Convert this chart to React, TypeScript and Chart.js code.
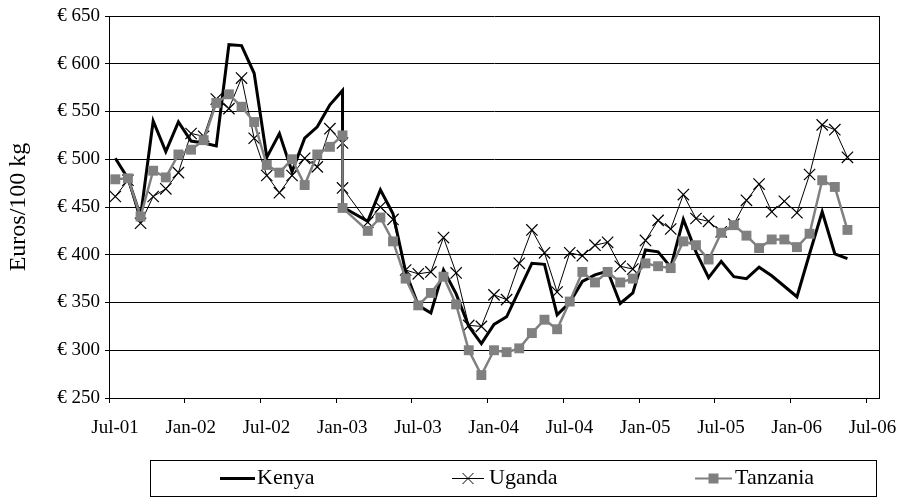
import React, { useEffect, useRef } from "react";
import { Chart, registerables } from "chart.js";

Chart.register(...registerables);

// Observation months (Jan-03 appears twice, Feb-03 has no observation)
const months = [
  "Jul-01", "Aug-01", "Sep-01", "Oct-01", "Nov-01", "Dec-01",
  "Jan-02", "Feb-02", "Mar-02", "Apr-02", "May-02", "Jun-02",
  "Jul-02", "Aug-02", "Sep-02", "Oct-02", "Nov-02", "Dec-02",
  "Jan-03", "Jan-03", "Mar-03", "Apr-03", "May-03", "Jun-03",
  "Jul-03", "Aug-03", "Sep-03", "Oct-03", "Nov-03", "Dec-03",
  "Jan-04", "Feb-04", "Mar-04", "Apr-04", "May-04", "Jun-04",
  "Jul-04", "Aug-04", "Sep-04", "Oct-04", "Nov-04", "Dec-04",
  "Jan-05", "Feb-05", "Mar-05", "Apr-05", "May-05", "Jun-05",
  "Jul-05", "Aug-05", "Sep-05", "Oct-05", "Nov-05", "Dec-05",
  "Jan-06", "Feb-06", "Mar-06", "Apr-06", "May-06",
];

const kenya = [
  501, 480, 440, 540, 508, 539,
  519, 517, 514, 620, 619, 590,
  502, 527, 487, 522, 534, 557,
  572, 450, 435, 468, 443, 382,
  347, 339, 384, 359, 325, 307,
  327, 335, 363, 391, 390, 337,
  350, 372, 379, 383, 349, 360,
  405, 403, 387, 437, 403, 376,
  393, 377, 375, 387, 378, 367,
  356, 401, 445, 401, 396,
];

const uganda = [
  461, 478, 433, 461, 469, 486,
  527, 524, 563, 553, 585, 522,
  483, 465, 483, 501, 492, 532,
  517, 470, 434, 450, 437, 384,
  380, 382, 418, 381, 326, 325,
  358, 353, 391, 426, 402, 361,
  402, 399, 410, 413, 388, 385,
  415, 436, 427, 463, 438, 435,
  424, 432, 457, 474, 445, 456,
  444, 484, 536, 531, 502,
];

const tanzania = [
  479, 480, 440, 488, 481, 505,
  510, 520, 559, 568, 555, 539,
  494, 486, 500, 473, 505, 513,
  525, 449, 425, 439, 414, 375,
  347, 360, 377, 348, 300, 274,
  300, 298, 302, 318, 332, 322,
  351, 382, 371, 382, 371, 375,
  391, 388, 386, 414, 410, 395,
  423, 431, 420, 407, 416, 416,
  408, 422, 478, 471, 426,
];

const xTickLabels = ["Jul-01", "Jan-02", "Jul-02", "Jan-03", "Jul-03", "Jan-04", "Jul-04", "Jan-05", "Jul-05", "Jan-06", "Jul-06"];
const yTicks = [250, 300, 350, 400, 450, 500, 550, 600, 650];
const seriesNames = ["Kenya", "Uganda", "Tanzania"];

const MONTH_NAMES = ["Jan", "Feb", "Mar", "Apr", "May", "Jun", "Jul", "Aug", "Sep", "Oct", "Nov", "Dec"];
const monthIndex = (label: string) => {
  const [m, y] = label.split("-");
  return (2000 + parseInt(y, 10)) * 12 + MONTH_NAMES.indexOf(m) - (2001 * 12 + 6);
};

const FONT = "'Liberation Serif', 'Times New Roman', serif";
const GRAY = "#808080";

const toPoints = (vals: number[]) => vals.map((v, i) => ({ x: monthIndex(months[i]) + 0.5, y: v }));

export default function App() {
  const ref = useRef<HTMLCanvasElement | null>(null);

  useEffect(() => {
    document.body.style.margin = "0";
    const canvas = ref.current;
    if (!canvas) return;

    const framePlugin = {
      id: "frame",
      afterDraw(chart: any) {
        const { ctx, chartArea } = chart;
        ctx.save();
        ctx.strokeStyle = "#000";
        ctx.lineWidth = 1;
        ctx.beginPath();
        ctx.moveTo(Math.round(chartArea.right) + 0.5, chartArea.top);
        ctx.lineTo(Math.round(chartArea.right) + 0.5, chartArea.bottom);
        ctx.stroke();

        // legend box
        const bx = 150.5, by = 460.5, bw = 726, bh = 36;
        ctx.fillStyle = "#fff";
        ctx.fillRect(bx, by, bw, bh);
        ctx.strokeRect(bx, by, bw, bh);
        const cy = 478.5;
        ctx.font = `22px ${FONT}`;
        ctx.textBaseline = "middle";
        ctx.textAlign = "left";
        // Kenya
        ctx.strokeStyle = "#000";
        ctx.lineWidth = 3;
        ctx.beginPath();
        ctx.moveTo(220, cy);
        ctx.lineTo(255, cy);
        ctx.stroke();
        ctx.fillStyle = "#000";
        ctx.fillText(seriesNames[0], 257, cy);
        // Uganda
        ctx.lineWidth = 1;
        ctx.beginPath();
        ctx.moveTo(452, cy);
        ctx.lineTo(484, cy);
        const ux = 468, r = 5.5;
        ctx.moveTo(ux - r, cy - r);
        ctx.lineTo(ux + r, cy + r);
        ctx.moveTo(ux - r, cy + r);
        ctx.lineTo(ux + r, cy - r);
        ctx.stroke();
        ctx.fillText(seriesNames[1], 489, cy);
        // Tanzania
        ctx.strokeStyle = GRAY;
        ctx.fillStyle = GRAY;
        ctx.lineWidth = 2;
        ctx.beginPath();
        ctx.moveTo(695, cy);
        ctx.lineTo(732, cy);
        ctx.stroke();
        ctx.fillRect(713.5 - 5, cy - 5, 10, 10);
        ctx.fillStyle = "#000";
        ctx.fillText(seriesNames[2], 735, cy);
        ctx.restore();
      },
    };

    const chart = new Chart(canvas, {
      type: "line",
      data: {
        datasets: [
          {
            label: seriesNames[0],
            data: toPoints(kenya),
            borderColor: "#000",
            backgroundColor: "#000",
            borderWidth: 3,
            pointRadius: 0,
            tension: 0,
            order: 3,
          },
          {
            label: seriesNames[1],
            data: toPoints(uganda),
            borderColor: "#000",
            backgroundColor: "#000",
            borderWidth: 1,
            pointStyle: "crossRot",
            pointRadius: 8,
            pointBorderWidth: 1.2,
            pointBorderColor: "#000",
            tension: 0,
            order: 2,
          },
          {
            label: seriesNames[2],
            data: toPoints(tanzania),
            borderColor: GRAY,
            backgroundColor: GRAY,
            borderWidth: 2.5,
            pointStyle: "rect",
            pointRadius: 7,
            pointBorderWidth: 0,
            pointBackgroundColor: GRAY,
            tension: 0,
            order: 1,
          },
        ],
      },
      options: {
        animation: false,
        responsive: false,
        devicePixelRatio: 1,
        layout: { autoPadding: false, padding: { top: 16, right: 21, left: 0, bottom: 0 } },
        plugins: { legend: { display: false }, tooltip: { enabled: false } },
        scales: {
          x: {
            type: "linear",
            min: 0,
            max: 61,
            afterBuildTicks: (scale: any) => {
              scale.ticks = xTickLabels.map((_, i) => ({ value: i * 6 }));
            },
            afterFit: (scale: any) => {
              scale.height = 100;
              scale.paddingLeft = 0;
              scale.paddingRight = 0;
            },
            ticks: {
              callback: (v: any) => xTickLabels[Math.round(Number(v) / 6)] ?? "",
              font: { family: FONT, size: 19 },
              color: "#000",
              labelOffset: 6,
              padding: 14,
              maxRotation: 0,
              autoSkip: false,
            },
            grid: { drawOnChartArea: false, color: "#000", tickLength: 5, lineWidth: 1 },
            border: { color: "#000", width: 1 },
          },
          y: {
            min: 250,
            max: 650,
            afterBuildTicks: (scale: any) => {
              scale.ticks = yTicks.map((v) => ({ value: v }));
            },
            afterFit: (scale: any) => {
              scale.width = 109;
              scale.paddingTop = 0;
              scale.paddingBottom = 0;
            },
            ticks: {
              callback: (v: any) => "€ " + v,
              font: { family: FONT, size: 19 },
              color: "#000",
              padding: 5,
            },
            grid: { color: "#000", tickLength: 4, lineWidth: 1 },
            border: { color: "#000", width: 1 },
            title: {
              display: true,
              text: "Euros/100 kg",
              font: { family: FONT, size: 24 },
              color: "#000",
              padding: { top: 4, bottom: 0 },
            },
          },
        },
      },
      plugins: [framePlugin],
    });

    return () => chart.destroy();
  }, []);

  return (
    <div style={{ width: 900, height: 498 }}>
      <canvas ref={ref} width={900} height={498} />
    </div>
  );
}
